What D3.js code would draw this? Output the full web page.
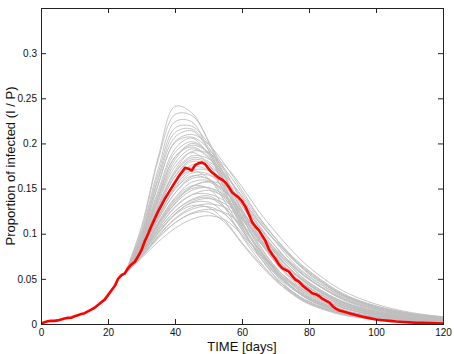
<!DOCTYPE html>
<html>
<head>
<meta charset="utf-8">
<script src="https://cdn.jsdelivr.net/npm/d3@7"></script>
<style>
  body { margin: 0; background: #fff; }
  text { font-family: "Liberation Sans", Arial, Helvetica, sans-serif; }
</style>
</head>
<body>
<svg id="chart" width="454" height="354"></svg>
<script>
// ensemble runs, sampled on runDays
var runDays = [25, 30, 35, 40, 45, 50, 55, 60, 65, 70, 75, 80, 90, 100, 110, 120];
var runs = [
  [0.055,0.108,0.185,0.241,0.234,0.202,0.157,0.119,0.085,0.061,0.041,0.029,0.015,0.008,0.004,0.002],
  [0.055,0.105,0.182,0.232,0.231,0.203,0.163,0.125,0.093,0.068,0.048,0.034,0.018,0.010,0.005,0.003],
  [0.055,0.102,0.172,0.224,0.224,0.192,0.147,0.108,0.076,0.052,0.035,0.024,0.012,0.006,0.003,0.002],
  [0.055,0.100,0.167,0.217,0.219,0.200,0.170,0.135,0.108,0.082,0.062,0.046,0.025,0.014,0.009,0.005],
  [0.055,0.098,0.162,0.212,0.216,0.196,0.162,0.127,0.097,0.072,0.053,0.037,0.020,0.011,0.006,0.004],
  [0.055,0.097,0.160,0.207,0.214,0.193,0.156,0.119,0.087,0.063,0.044,0.030,0.015,0.008,0.004,0.002],
  [0.055,0.095,0.154,0.202,0.210,0.199,0.176,0.148,0.119,0.095,0.073,0.057,0.032,0.019,0.011,0.007],
  [0.055,0.095,0.155,0.201,0.207,0.194,0.168,0.137,0.110,0.086,0.066,0.050,0.028,0.016,0.010,0.006],
  [0.055,0.094,0.148,0.194,0.206,0.187,0.151,0.114,0.082,0.058,0.040,0.027,0.013,0.007,0.003,0.002],
  [0.055,0.093,0.145,0.190,0.202,0.190,0.164,0.131,0.103,0.078,0.059,0.043,0.023,0.012,0.007,0.004],
  [0.055,0.091,0.139,0.182,0.200,0.189,0.153,0.113,0.080,0.055,0.036,0.024,0.011,0.006,0.003,0.001],
  [0.055,0.091,0.141,0.185,0.198,0.190,0.171,0.145,0.118,0.095,0.074,0.058,0.033,0.020,0.012,0.007],
  [0.055,0.091,0.142,0.185,0.196,0.185,0.161,0.132,0.105,0.080,0.062,0.046,0.025,0.014,0.008,0.005],
  [0.055,0.090,0.137,0.178,0.194,0.184,0.157,0.123,0.095,0.069,0.050,0.035,0.018,0.010,0.005,0.003],
  [0.055,0.088,0.132,0.170,0.191,0.189,0.175,0.152,0.125,0.102,0.081,0.063,0.037,0.022,0.013,0.008],
  [0.055,0.089,0.135,0.174,0.190,0.177,0.143,0.106,0.076,0.052,0.034,0.023,0.011,0.006,0.003,0.001],
  [0.055,0.087,0.130,0.168,0.186,0.183,0.166,0.140,0.113,0.091,0.069,0.053,0.030,0.017,0.010,0.006],
  [0.055,0.087,0.130,0.167,0.184,0.180,0.164,0.142,0.116,0.095,0.075,0.059,0.034,0.020,0.012,0.008],
  [0.055,0.086,0.128,0.164,0.182,0.178,0.157,0.127,0.099,0.075,0.055,0.040,0.021,0.011,0.006,0.004],
  [0.055,0.086,0.127,0.163,0.180,0.175,0.150,0.117,0.089,0.063,0.045,0.031,0.015,0.008,0.004,0.002],
  [0.055,0.084,0.122,0.156,0.176,0.175,0.158,0.131,0.103,0.079,0.059,0.043,0.022,0.012,0.007,0.004],
  [0.055,0.085,0.123,0.157,0.174,0.170,0.145,0.112,0.083,0.059,0.041,0.028,0.013,0.007,0.004,0.002],
  [0.055,0.083,0.119,0.152,0.170,0.170,0.157,0.134,0.108,0.086,0.065,0.050,0.027,0.015,0.009,0.005],
  [0.055,0.084,0.124,0.157,0.170,0.161,0.135,0.104,0.078,0.056,0.040,0.027,0.014,0.007,0.004,0.002],
  [0.055,0.083,0.119,0.150,0.167,0.166,0.148,0.119,0.093,0.068,0.050,0.036,0.018,0.010,0.005,0.003],
  [0.055,0.083,0.118,0.149,0.164,0.160,0.139,0.110,0.083,0.060,0.043,0.029,0.015,0.008,0.004,0.002],
  [0.055,0.083,0.116,0.145,0.163,0.165,0.155,0.136,0.113,0.092,0.072,0.056,0.033,0.019,0.011,0.007],
  [0.055,0.083,0.116,0.145,0.161,0.161,0.142,0.111,0.083,0.059,0.041,0.027,0.013,0.007,0.004,0.002],
  [0.055,0.081,0.113,0.140,0.157,0.159,0.147,0.125,0.099,0.078,0.058,0.044,0.023,0.013,0.007,0.004],
  [0.055,0.081,0.110,0.134,0.152,0.158,0.153,0.137,0.114,0.092,0.073,0.055,0.032,0.018,0.010,0.006],
  [0.055,0.081,0.111,0.137,0.152,0.157,0.146,0.123,0.095,0.072,0.053,0.038,0.019,0.010,0.005,0.003],
  [0.055,0.081,0.112,0.139,0.153,0.150,0.128,0.097,0.071,0.049,0.033,0.022,0.010,0.005,0.003,0.001],
  [0.055,0.080,0.110,0.136,0.150,0.151,0.138,0.116,0.092,0.072,0.054,0.040,0.021,0.012,0.007,0.004],
  [0.055,0.079,0.108,0.133,0.148,0.151,0.142,0.124,0.102,0.082,0.064,0.049,0.028,0.016,0.009,0.005],
  [0.055,0.079,0.106,0.129,0.143,0.148,0.140,0.120,0.095,0.074,0.055,0.041,0.021,0.011,0.006,0.004],
  [0.055,0.079,0.106,0.130,0.143,0.144,0.136,0.121,0.102,0.083,0.067,0.052,0.031,0.018,0.011,0.007],
  [0.055,0.078,0.104,0.125,0.138,0.142,0.129,0.104,0.079,0.057,0.040,0.027,0.013,0.007,0.003,0.002],
  [0.055,0.078,0.104,0.125,0.137,0.140,0.128,0.107,0.083,0.062,0.046,0.033,0.016,0.008,0.005,0.003],
  [0.055,0.077,0.102,0.122,0.135,0.139,0.133,0.117,0.096,0.076,0.059,0.045,0.024,0.014,0.008,0.005],
  [0.055,0.077,0.101,0.122,0.134,0.135,0.122,0.098,0.075,0.055,0.039,0.028,0.014,0.007,0.004,0.002],
  [0.055,0.075,0.098,0.117,0.129,0.133,0.129,0.116,0.098,0.080,0.065,0.050,0.029,0.017,0.010,0.006],
  [0.055,0.077,0.100,0.121,0.131,0.129,0.114,0.090,0.069,0.050,0.036,0.025,0.012,0.006,0.003,0.002],
  [0.055,0.075,0.097,0.116,0.127,0.130,0.121,0.101,0.079,0.060,0.044,0.032,0.016,0.008,0.004,0.003],
  [0.055,0.074,0.095,0.112,0.123,0.127,0.123,0.110,0.091,0.073,0.057,0.043,0.024,0.013,0.007,0.004],
  [0.055,0.075,0.096,0.112,0.122,0.124,0.112,0.089,0.067,0.048,0.034,0.023,0.011,0.006,0.003,0.002],
  [0.055,0.073,0.091,0.106,0.116,0.120,0.115,0.099,0.079,0.062,0.046,0.034,0.018,0.009,0.005,0.003]
];

// observed epidemic (red)
var obsDays = [0,1,2,3,4,5,6,7,8,9,10,11,12,13,14,15,16,17,18,19,20,21,22,23,24,25,26,27,28,29,
  30,31,32,33,34,35,36,37,38,39,40,41,42,43,44,45,46,47,48,49,50,51,52,53,54,55,56,57,58,59,
  60,61,62,63,64,65,66,67,68,69,70,71,72,73,74,75,76,77,78,79,80,81,82,83,84,85,86,87,88,89,
  90,92,94,96,98,100,102,104,106,108,110,112,114,116,118,120];
var obsValues = [0.000,0.002,0.003,0.0035,0.0035,0.004,0.005,0.006,0.0068,0.007,0.0085,0.0098,0.011,0.012,0.014,
  0.016,0.018,0.021,0.024,0.027,0.032,0.037,0.042,0.050,0.054,0.056,0.062,0.066,0.069,0.075,
  0.082,0.092,0.100,0.109,0.117,0.125,0.132,0.139,0.145,0.151,0.157,0.163,0.168,0.173,0.172,
  0.170,0.176,0.178,0.179,0.177,0.172,0.168,0.165,0.162,0.160,0.157,0.152,0.146,0.143,0.140,
  0.136,0.130,0.122,0.113,0.108,0.104,0.098,0.092,0.083,0.077,0.072,0.066,0.062,0.060,0.058,
  0.053,0.049,0.047,0.043,0.040,0.037,0.034,0.033,0.031,0.028,0.026,0.024,0.020,0.017,0.015,
  0.014,0.012,0.010,0.008,0.0065,0.005,0.0042,0.0035,0.0027,0.0022,0.0018,0.0014,0.0012,0.001,0.0008,0.0006];

var xTicks = [0, 20, 40, 60, 80, 100, 120];
var yTicks = [0, 0.05, 0.1, 0.15, 0.2, 0.25, 0.3];

var svg = d3.select("#chart"),
    margin = {top: 8, right: 11, bottom: 30, left: 41},
    width = +svg.attr("width") - margin.left - margin.right,
    height = +svg.attr("height") - margin.top - margin.bottom;

var x = d3.scaleLinear().domain([0, 120]).range([0, width]);
var y = d3.scaleLinear().domain([0, 0.35]).range([height, 0]);

var g = svg.append("g")
    .attr("transform", "translate(" + margin.left + "," + margin.top + ")");

g.append("clipPath").attr("id", "plotclip")
  .append("rect").attr("width", width).attr("height", height);

var plot = g.append("g").attr("clip-path", "url(#plotclip)");

var runLine = d3.line()
    .x(function(d, i) { return x(runDays[i]); })
    .y(function(d) { return y(d); })
    .curve(d3.curveCatmullRom.alpha(0.5));

plot.selectAll(".run")
    .data(runs)
  .enter().append("path")
    .attr("class", "run")
    .attr("d", runLine)
    .attr("fill", "none")
    .attr("stroke", "#bdbdbd")
    .attr("stroke-width", 0.9);

var obsLine = d3.line()
    .x(function(d, i) { return x(obsDays[i]); })
    .y(function(d) { return y(d); });

plot.append("path")
    .datum(obsValues)
    .attr("d", obsLine)
    .attr("fill", "none")
    .attr("stroke", "#ff0000")
    .attr("stroke-width", 2.6)
    .attr("stroke-linejoin", "round");

// axes, ticks pointing inward like matlab
var fmt = function(d) { return String(d); };

g.append("g")
    .attr("class", "axis")
    .attr("transform", "translate(0," + height + ")")
    .call(d3.axisBottom(x).tickValues(xTicks).tickSizeInner(-5).tickSizeOuter(0).tickPadding(5).tickFormat(fmt));

g.append("g")
    .attr("class", "axis")
    .call(d3.axisTop(x).tickValues(xTicks).tickSizeInner(-5).tickSizeOuter(0).tickFormat(""));

g.append("g")
    .attr("class", "axis")
    .call(d3.axisLeft(y).tickValues(yTicks).tickSizeInner(-5).tickSizeOuter(0).tickPadding(4).tickFormat(fmt));

g.append("g")
    .attr("class", "axis")
    .attr("transform", "translate(" + width + ",0)")
    .call(d3.axisRight(y).tickValues(yTicks).tickSizeInner(-5).tickSizeOuter(0).tickFormat(""));

g.selectAll(".axis .domain").remove();
g.selectAll(".axis line").attr("stroke", "#222");
g.selectAll(".axis text").attr("font-size", 10).attr("fill", "#111")
    .style("font-family", "'Liberation Sans', Arial, sans-serif");

g.append("rect")
    .attr("x", 0.5).attr("y", 0.5)
    .attr("width", width).attr("height", height)
    .attr("fill", "none")
    .attr("stroke", "#222")
    .attr("stroke-width", 1);

g.append("text")
    .attr("x", width / 2)
    .attr("y", height + 27)
    .attr("text-anchor", "middle")
    .attr("font-size", 13)
    .attr("fill", "#111")
    .text("TIME [days]");

g.append("text")
    .attr("transform", "rotate(-90)")
    .attr("x", -height / 2)
    .attr("y", -26)
    .attr("text-anchor", "middle")
    .attr("font-size", 13)
    .attr("fill", "#111")
    .text("Proportion of infected (I / P)");
</script>
</body>
</html>
